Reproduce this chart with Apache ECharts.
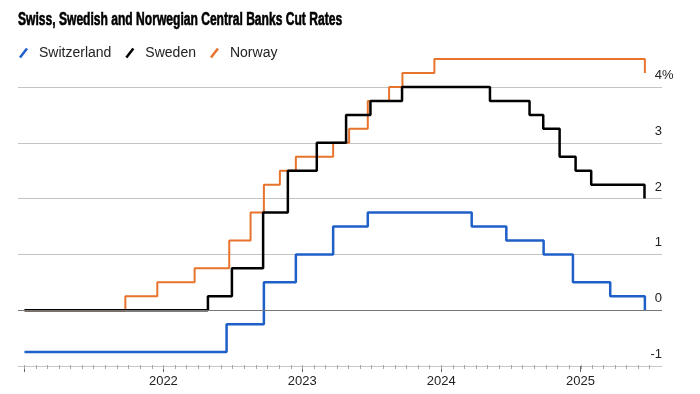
<!DOCTYPE html>
<html>
<head>
<meta charset="utf-8">
<script src="https://cdn.jsdelivr.net/npm/echarts@6/dist/echarts.min.js"></script>
<style>
html,body{margin:0;padding:0;background:#fff;}
#chart{width:700px;height:394px;}
</style>
</head>
<body>
<div id="chart"></div>
<script>
const titleText = 'Swiss, Swedish and Norwegian Central Banks Cut Rates';
const seriesNames = ['Switzerland', 'Sweden', 'Norway'];

const switzerlandDates = ['2021-01-01','2022-06-16','2022-09-22','2022-12-15','2023-03-23','2023-06-22','2024-03-21','2024-06-20','2024-09-26','2024-12-12','2025-03-20','2025-06-19'];
const switzerlandRates = [-0.75, -0.25, 0.5, 1.0, 1.5, 1.75, 1.5, 1.25, 1.0, 0.5, 0.25, 0.0];

const swedenDates = ['2021-01-01','2022-04-28','2022-06-30','2022-09-20','2022-11-24','2023-02-08','2023-04-26','2023-06-29','2023-09-20','2024-05-08','2024-08-20','2024-09-25','2024-11-07','2024-12-19','2025-01-29','2025-06-18'];
const swedenRates = [0, 0.25, 0.75, 1.75, 2.5, 3.0, 3.5, 3.75, 4.0, 3.75, 3.5, 3.25, 2.75, 2.5, 2.25, 2.0];

const norwayDates = ['2021-01-01','2021-09-23','2021-12-16','2022-03-24','2022-06-23','2022-08-18','2022-09-22','2022-11-03','2022-12-15','2023-03-23','2023-05-04','2023-06-22','2023-08-17','2023-09-21','2023-12-14','2025-06-19'];
const norwayRates = [0, 0.25, 0.5, 0.75, 1.25, 1.75, 2.25, 2.5, 2.75, 3.0, 3.25, 3.75, 4.0, 4.25, 4.5, 4.25];

const yTicks = [-1, 0, 1, 2, 3, 4];
const xMin = '2020-12-15';
const xMax = '2025-08-03';

// monthly minor tick positions (first of each month)
const monthTicks = [];
for (let y = 2021; y <= 2025; y++) {
  for (let m = 1; m <= 12; m++) {
    if (y === 2025 && m > 7) break;
    monthTicks.push(y + '-' + String(m).padStart(2, '0') + '-01');
  }
}

const colors = ['#1f5fc8', '#000000', '#e8732c'];
const widths = [2.5, 2.5, 2];

function pairs(d, v) { return d.map((x, i) => [x, v[i]]); }

const chart = echarts.init(document.getElementById('chart'));
const slash = 'path://M0,10 L7,1 L9,2.5 L2,11.5 Z';
const allData = [pairs(switzerlandDates, switzerlandRates), pairs(swedenDates, swedenRates), pairs(norwayDates, norwayRates)];
const DAY = 86400000;

const lineSeries = seriesNames.map((name, i) => ({
  name: name,
  type: 'line',
  step: 'end',
  clip: false,
  showSymbol: false,
  symbol: 'none',
  color: colors[i],
  lineStyle: { color: colors[i], width: widths[i] },
  data: allData[i],
  z: i === 1 ? 4 : 3,
  markLine: i === 0 ? {
    silent: true, symbol: 'none', label: { show: false },
    lineStyle: { color: '#777', width: 1, type: 'solid' },
    data: [{ yAxis: 0 }]
  } : undefined
}));

const tickSeries = {
  name: 'monthTicks',
  type: 'custom',
  silent: true,
  clip: false,
  z: 1,
  data: monthTicks.map(d => [d, yTicks[0]]),
  renderItem: function (params, api) {
    const p = api.coord([api.value(0), api.value(1)]);
    const x = Math.round(p[0]) + 0.5;
    return {
      type: 'line',
      shape: { x1: x, y1: p[1] - 1, x2: x, y2: p[1] + 3 },
      style: { stroke: '#a8a8a8', lineWidth: 1 }
    };
  }
};

const option = {
  animation: false,
  backgroundColor: '#fff',
  legend: {
    left: 14, top: 41,
    icon: slash,
    itemWidth: 9, itemHeight: 11, itemGap: 14,
    textStyle: { fontFamily: 'Liberation Sans, Arial', fontSize: 14, color: '#222', padding: [0, 0, 0, 6] },
    data: seriesNames
  },
  grid: { left: 18, right: 38, top: 87, bottom: 28, containLabel: false },
  xAxis: {
    type: 'time',
    min: xMin, max: xMax,
    minInterval: 365 * DAY, maxInterval: 366 * DAY,
    axisLine: { show: true, onZero: false, lineStyle: { color: '#c8c8c8', width: 1 } },
    axisTick: { show: true, length: 6, lineStyle: { color: '#666' } },
    splitLine: { show: false },
    axisLabel: {
      fontFamily: 'Liberation Sans, Arial', fontSize: 13, color: '#222', margin: 9,
      showMinLabel: false, showMaxLabel: false,
      formatter: function (v) { const y = new Date(v).getFullYear(); return y === 2021 ? '' : String(y); }
    }
  },
  yAxis: {
    type: 'value',
    position: 'right',
    min: yTicks[0], max: yTicks[yTicks.length - 1], interval: 1,
    axisLine: { show: false },
    axisTick: { show: false },
    splitLine: { show: true, lineStyle: { color: '#c4c4c4', width: 1 } },
    axisLabel: {
      inside: true, margin: 0, align: 'right', verticalAlign: 'bottom', padding: [0, 0, 5, 0],
      fontFamily: 'Liberation Sans, Arial', fontSize: 13, color: '#222',
      formatter: function (v) { return String(v); }
    }
  },
  series: lineSeries.concat([tickSeries])
};
chart.setOption(option);

// condensed title and percent sign after the top tick label
const p4 = chart.convertToPixel({ yAxisIndex: 0 }, 4);
chart.setOption({
  graphic: [{
    type: 'text', x: 18, y: 11, scaleX: 0.69,
    style: { text: titleText, font: 'bold 17.5px Liberation Sans, Arial', fill: '#000', stroke: '#000', lineWidth: 0.6 }
  }, {
    type: 'text', left: 700 - 38, top: p4 - 18,
    style: { text: '%', font: '13px Liberation Sans, Arial', fill: '#222' }
  }]
});
</script>
</body>
</html>
